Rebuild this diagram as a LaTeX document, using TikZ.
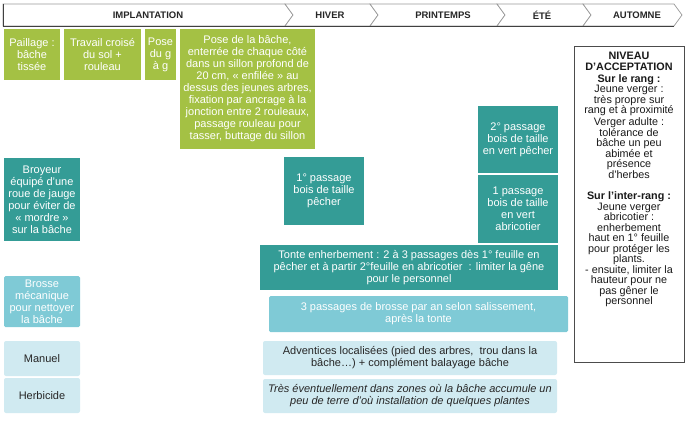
\documentclass[tikz,border=0pt]{standalone}
\usepackage{fontspec}
\setmainfont{Liberation Sans}
\definecolor{vgreen}{HTML}{A4C144}
\definecolor{tealA}{HTML}{349C96}
\definecolor{tealB}{HTML}{7FCAD6}
\definecolor{paleB}{HTML}{D0EAF1}
\tikzset{
  base/.style={inner sep=0pt, align=center, font=\fontsize{11}{12}\selectfont},
  gbox/.style={base, fill=vgreen, text=white},
  tbox/.style={base, fill=tealA, text=white},
  lbox/.style={base, fill=tealB, text=white, rounded corners=1.5pt},
  pbox/.style={base, fill=paleB, text=black!85, rounded corners=2pt},
  season/.style={font=\fontsize{9.5}{10}\selectfont\bfseries, text=black!85},
  chev/.style={fill=white, draw=black!40, line width=0.7pt},
}
\begin{document}
\begin{tikzpicture}[x=1pt,y=-1pt]
\useasboundingbox (0,0) rectangle (700,421);
% header chevrons
\draw[chev] (3,4) -- (285,4) -- (293,15) -- (285,26) -- (3,26) -- cycle;
\draw[chev] (285,4) -- (370,4) -- (378,15) -- (370,26) -- (285,26) -- (293,15) -- cycle;
\draw[chev] (370,4) -- (497,4) -- (505,15) -- (497,26) -- (370,26) -- (378,15) -- cycle;
\draw[chev] (497,4) -- (583,4) -- (591,15) -- (583,26) -- (497,26) -- (505,15) -- cycle;
\draw[chev] (583,4) -- (674,4) -- (682,15) -- (674,26) -- (583,26) -- (591,15) -- cycle;
\draw[black!75, line width=0.8pt] (3,26) -- (674,26);
\draw[black!75, line width=0.8pt] (3,4) -- (3,26);
\node[season] (implantation) at (148,15) {IMPLANTATION};
\node[season] (hiver) at (330,15) {HIVER};
\node[season] (printemps) at (443,15) {PRINTEMPS};
\node[season] (ete) at (542,15) {ÉTÉ};
\node[season] (automne) at (637,15) {AUTOMNE};
% green boxes
\node[gbox, minimum width=56pt, minimum height=51pt] (paillage) at (32,54.5) {Paillage :\\bâche\\tissée};
\node[gbox, minimum width=77pt, minimum height=51pt] (travail) at (102.5,54.5) {Travail croisé\\du sol +\\rouleau};
\node[gbox, minimum width=31pt, minimum height=51pt] (posegg) at (160.5,54.5) {Pose\\du g\\à g};
\node[gbox, minimum width=135pt, minimum height=120pt] (posebache) at (247.5,89) {Pose de la bâche,\\enterrée de chaque côté\\dans un sillon profond de\\20 cm, « enfilée » au\\dessus des jeunes arbres,\\fixation par ancrage à la\\jonction entre 2 rouleaux,\\passage rouleau pour\\tasser, buttage du sillon};
% teal boxes
\node[tbox, minimum width=76pt, minimum height=83pt] (broyeur) at (42,199.5) {Broyeur\\équipé d’une\\roue de jauge\\pour éviter de\\« mordre »\\sur la bâche};
\node[tbox, minimum width=80pt, minimum height=68pt] (pass1) at (324,191) {1° passage\\bois de taille\\pêcher};
\node[tbox, minimum width=80pt, minimum height=67pt] (pass2) at (518,139.5) {2° passage\\bois de taille\\en vert pêcher};
\node[tbox, minimum width=80pt, minimum height=68pt] (pass1a) at (518,209) {1 passage\\bois de taille\\en vert\\abricotier};
\node[tbox, minimum width=298pt, minimum height=45pt] (tonte) at (409,267.5) {Tonte enherbement : 2 à 3 passages dès 1° feuille en\\pêcher et à partir 2°feuille en abricotier~ : limiter la gêne\\pour le personnel};
% light teal boxes
\node[lbox, minimum width=76pt, minimum height=51pt] (brosse) at (42,301.5) {Brosse\\mécanique\\pour nettoyer\\la bâche};
\node[lbox, minimum width=299pt, minimum height=36pt] (brossepass) at (418.5,314) {3 passages de brosse par an selon salissement,\\après la tonte};
% pale boxes
\node[pbox, minimum width=76pt, minimum height=35pt] (manuel) at (42,358.5) {Manuel};
\node[pbox, minimum width=76pt, minimum height=35pt] (herbicide) at (42,395.5) {Herbicide};
\node[pbox, minimum width=294pt, minimum height=34pt] (adventices) at (410,358) {Adventices localisées (pied des arbres,~ trou dans la\\bâche…) + complément balayage bâche};
\node[pbox, minimum width=294pt, minimum height=34pt, font=\fontsize{11}{12}\selectfont\itshape] (tres) at (410,396) {Très éventuellement dans zones où la bâche accumule un\\peu de terre d’où installation de quelques plantes};
% acceptance box
\node[draw=black!70, line width=0.9pt, minimum width=110pt, minimum height=316pt, inner sep=0pt] (niveau) at (629,204) {};
\node[anchor=north, align=center, inner sep=0pt, text=black!90, font=\fontsize{10.8}{10.5}\selectfont] (niveautext) at (629,51.5) {\textbf{NIVEAU}\\[1pt]\textbf{D’ACCEPTATION}\\[1pt]\textbf{Sur le rang :}\\Jeune verger :\\très propre sur\\rang et à proximité\\[1.5pt]Verger adulte :\\tolérance de\\bâche un peu\\abimée et\\présence\\d’herbes\\[11pt]\textbf{Sur l’inter-rang :}\\Jeune verger\\abricotier :\\enherbement\\haut en 1° feuille\\pour protéger les\\plants.\\- ensuite, limiter la\\hauteur pour ne\\pas gêner le\\personnel};
\end{tikzpicture}
\end{document}
